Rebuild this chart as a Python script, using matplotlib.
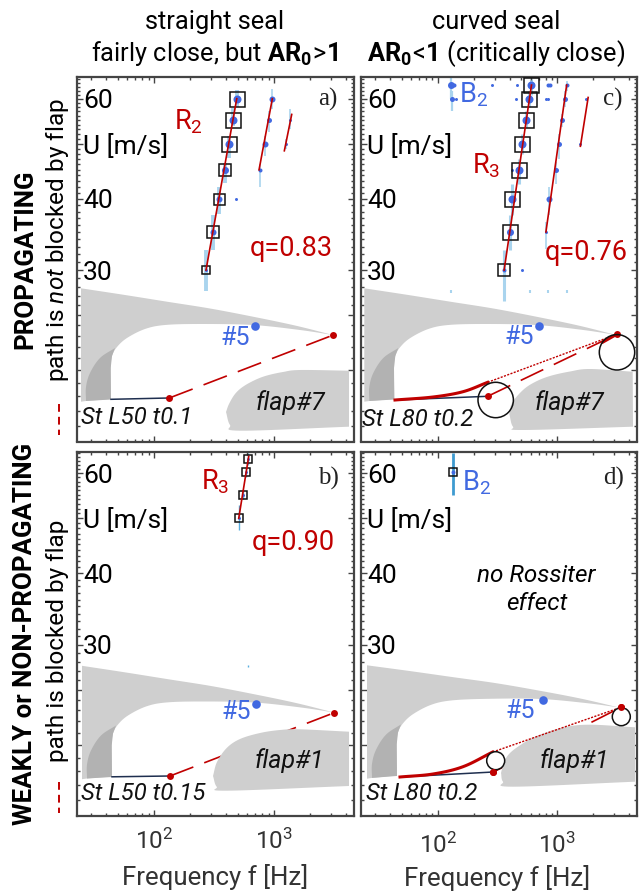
"""Rossiter modes vs flow speed for the four seal / flap configurations."""
import matplotlib
matplotlib.use("Agg")
import matplotlib.pyplot as plt
import numpy as np
from matplotlib.patches import Circle, Polygon
from matplotlib.ticker import FixedLocator, LogLocator, NullFormatter

plt.rcParams['font.family'] = ['Roboto', 'DejaVu Sans']
plt.rcParams['mathtext.fontset'] = 'custom'
plt.rcParams['mathtext.rm'] = 'Roboto'
plt.rcParams['mathtext.it'] = 'Roboto:italic'
plt.rcParams['mathtext.bf'] = 'Roboto:bold'

# ── Spectral peaks ────────────────────────────────────────────────────────────
# panel a
a1_f = [271, 308, 350, 391, 419, 455, 489]
a1_u = [30, 35, 40, 45, 50, 55, 60]
a1_lo = [27.6, 32.5, 37.6, 42.6, 47.3, 53.8, 58]
a1_hi = [32.5, 37.5, 42, 46.2, 51.6, 57.7, 62.2]
a1_box = [8, 12, 11, 12, 15, 15, 15]
a1_dot = [3, 6, 6, 7, 8, 8, 8]
a2_f = [769, 837, 903, 968]
a2_u = [45, 50, 55, 60]
a2_lo = [42, 47.5, 52.5, 57.5]
a2_hi = [46, 51.5, 57, 62.5]
a2_dot = [4, 6, 5, 6]
a3_f = [1252, 1359]
a3_u = [50, 55]
a3_lo = [49, 53]
a3_hi = [51, 57.5]
a3_dot = [3, 3]
a_extra_f = [485]
a_extra_u = [40]
a_fit_f = [[271, 489], [750, 968], [1219, 1404]]
a_fit_u = [[30, 60], [45, 60], [48.6, 56.3]]

# panel b
b1_f = [508, 555, 584, 611]
b1_u = [50, 55, 60.3, 63.6]
b1_lo = [47.6, 54, 59, 62]
b1_hi = [52.8, 56, 61.5, 65]
b1_box = [8, 8, 8, 8]
b1_dot = [3, 3, 3, 3]
b_stub_f = [607]
b_stub_lo = [27.4]
b_stub_hi = [27.6]
b_fit_f = [[508, 615]]
b_fit_u = [[50, 64.2]]

# panel c
c1_f = [359, 400, 419, 482, 511, 546, 578, 597]
c1_u = [30, 35, 40, 45, 50, 55, 60, 63.4]
c1_lo = [26.5, 32.5, 37.5, 42.5, 48, 53.5, 58, 61]
c1_hi = [32.5, 37.5, 42.5, 47, 52, 57, 62, 65]
c1_box = [12, 15, 15, 15, 15, 15, 15, 15]
c1_dot = [4, 7, 8, 8, 8, 8, 8, 8]
c2_f = [803, 845, 968, 1026, 1095, 1161, 1197]
c2_u = [35, 40, 45, 50, 55, 60, 63.4]
c2_lo = [32.7, 37.5, 42.5, 47, 53.5, 58, 62]
c2_hi = [36.5, 42, 46.5, 52, 56.5, 62, 64.5]
c2_dot = [3, 6, 5, 5, 5, 5, 4]
c3_f = [1538, 1742]
c3_u = [50, 60]
c_b2_f = [129, 132]
c_b2_u = [63.4, 60]
c_b2_lo = [60, 57]
c_b2_hi = [65.4, 62]
c_extra_f = [137, 142, 283, 458, 840, 873, 455, 803, 840, 419, 508]
c_extra_u = [63.4, 60, 63.4, 63.4, 63.4, 63.4, 60, 60, 60, 45, 30]
c_extra_dot = [4, 3, 3, 3, 4, 4, 3, 3, 3, 3, 3]
c_stub_f = [129, 593, 830, 1197]
c_stub_lo = [27.4, 27.4, 27.4, 27.4]
c_stub_hi = [27.7, 27.7, 27.7, 27.7]
c_fit_f = [[359, 608], [803, 1197], [1560, 1811]]
c_fit_u = [[30, 63.4], [35, 63.4], [49.5, 60.3]]

# panel d
d1_f = [133.6]
d1_u = [60.2]
d1_lo = [55]
d1_hi = [65]
d1_box = [8]
d1_dot = [4]

y_major = [20, 25, 30, 40, 50, 60]
y_labels = ["", "", "30", "40", "U [m/s]", "60"]
x_major = [100, 1000]

# ── Sketch outlines, in picture pixels ────────────────────────────────────────
seal_top_x = [81, 125, 167, 210, 253, 295, 333]
seal_top_y = [288.3, 295, 301.7, 308.5, 316.7, 325.5, 335]
seal_low_x = [333, 300, 253, 200, 165, 145, 127, 117, 112, 110.7, 111]
seal_low_y = [335, 330, 325, 324, 325, 329, 338, 347, 356, 368, 399]
seal_dark_x = [115, 100, 90, 86, 86]
seal_dark_y = [348, 358, 373, 387, 401]

flap7a_x = [226, 229, 235, 243, 255, 267, 283, 300, 349]
flap7a_y = [412, 404, 394, 386.7, 380, 375.5, 372, 370, 370.7]
flap7a_low_x = [349, 240, 230, 226]
flap7a_low_y = [426.7, 430.7, 425, 412]
flap7c_x = [509.3, 512, 523, 535, 550, 570, 590, 632.7]
flap7c_y = [414, 403, 390, 382, 376, 371.5, 369, 371.7]
flap7c_low_x = [633, 523, 513, 509.3]
flap7c_low_y = [426.7, 430, 426.7, 414]
flap1b_x = [213, 217, 226.7, 240, 260, 280, 300, 349]
flap1b_y = [776, 762, 748, 739, 733, 730, 729.3, 731.7]
flap1b_low_x = [349, 226.7, 216.7, 213]
flap1b_low_y = [786, 790.7, 786.7, 776]
flap1d_x = [501, 504, 510, 522, 536.7, 563, 590, 635]
flap1d_y = [773, 762, 753, 744, 736, 727.5, 724.7, 727.3]
flap1d_low_x = [635, 513, 503, 501]
flap1d_low_y = [781.7, 786.7, 781.7, 773]

lip_c_x = [395, 433, 463, 487.7]
lip_c_y = [400, 397, 391.7, 382.3]
lip_d_x = [400, 433, 463, 492.7]
lip_d_y = [777, 774, 766.7, 752]

RED = "#C00000"
BLUE = "#4169E1"
BAR = "#A9D4EE"
GREY = "#CFCFCF"
DARK = "#B2B2B2"
NAVY = "#1F2F4F"
SPINE = "#444444"

fig = plt.figure(figsize=(6.44, 8.92), dpi=100)


def px_axes(left, top, right, bottom):
    return fig.add_axes([left / 644, 1 - bottom / 892, (right - left) / 644, (bottom - top) / 892])


def smooth(xs, ys, n=12):
    """Catmull-Rom through the read points."""
    p = np.column_stack([xs, ys]).astype(float)
    p = np.vstack([2 * p[0] - p[1], p, 2 * p[-1] - p[-2]])
    out = []
    for i in range(1, len(p) - 2):
        for t in np.linspace(0, 1, n, endpoint=False):
            out.append(0.5 * (2 * p[i] + (p[i + 1] - p[i - 1]) * t
                              + (2 * p[i - 1] - 5 * p[i] + 4 * p[i + 1] - p[i + 2]) * t ** 2
                              + (3 * p[i] - p[i - 1] - 3 * p[i + 1] + p[i + 2]) * t ** 3))
    out.append(p[-2])
    return np.array(out)


def setup(ax, bottom_row):
    ax.set_xscale("log")
    ax.set_yscale("log")
    ax.set_xlim(22.8, 4640)
    ax.set_ylim(15, 65.5)
    ax.xaxis.set_major_locator(FixedLocator(x_major))
    ax.xaxis.set_minor_locator(LogLocator(base=10, subs=np.arange(2, 10), numticks=12))
    ax.xaxis.set_minor_formatter(NullFormatter())
    ax.yaxis.set_major_locator(FixedLocator(y_major))
    ax.yaxis.set_major_formatter(plt.FixedFormatter(y_labels))
    ax.yaxis.set_minor_locator(FixedLocator([v for v in range(16, 66) if v not in y_major]))
    ax.yaxis.set_minor_formatter(NullFormatter())
    ax.tick_params(which="major", direction="in", top=True, right=True, length=4.5, width=1, color=SPINE)
    ax.tick_params(which="minor", direction="in", top=True, right=True, length=2.2, width=1, color=SPINE)
    ax.tick_params(axis="y", which="major", pad=-4.5, labelsize=19)
    ax.tick_params(axis="x", which="major", pad=9, labelsize=17.5, labelcolor="#333333",
                   labelbottom=bottom_row)
    for lab in ax.get_yticklabels():
        lab.set_ha("left")
    for s in ax.spines.values():
        s.set_color(SPINE)
        s.set_linewidth(1.6)


def peaks(ax, f, u, dot, lo=None, hi=None, box=None, bar_w=3.0, bar_c=BAR):
    if lo is not None:
        ax.vlines(f, lo, hi, color=bar_c, lw=bar_w, zorder=1)
    for x, y, d in zip(f, u, dot):
        ax.plot(x, y, "o", color=BLUE, ms=d * 0.72, mew=0, zorder=3)
    if box is not None:
        for x, y, b in zip(f, u, box):
            ax.plot(x, y, "s", mfc="none", mec="#111111", mew=1.1, ms=b * 0.72, zorder=4)


def fits(ax, fs, us):
    for f, u in zip(fs, us):
        ax.plot(f, u, color=RED, lw=1.2, zorder=5)


ax_a = px_axes(77, 77, 354, 441.5)
ax_b = px_axes(77, 451.5, 354, 816)
ax_c = px_axes(361, 77, 637, 441.5)
ax_d = px_axes(361, 451.5, 637, 816)
setup(ax_a, False)
setup(ax_b, True)
setup(ax_c, False)
setup(ax_d, True)
ax_d.tick_params(axis="x", which="major", pad=12)

peaks(ax_a, a1_f, a1_u, a1_dot, a1_lo, a1_hi, a1_box, bar_w=2.8)
peaks(ax_a, a2_f, a2_u, a2_dot, a2_lo, a2_hi, bar_w=1.2)
peaks(ax_a, a3_f, a3_u, a3_dot, a3_lo, a3_hi, bar_w=1.2)
peaks(ax_a, a_extra_f, a_extra_u, [3])
fits(ax_a, a_fit_f, a_fit_u)

peaks(ax_b, b1_f, b1_u, b1_dot, b1_lo, b1_hi, b1_box, bar_w=1.0, bar_c="#5AAEE0")
ax_b.vlines(b_stub_f, b_stub_lo, b_stub_hi, color="#5AAEE0", lw=1.0)
fits(ax_b, b_fit_f, b_fit_u)

peaks(ax_c, c1_f, c1_u, c1_dot, c1_lo, c1_hi, c1_box, bar_w=2.2)
peaks(ax_c, c2_f, c2_u, c2_dot, c2_lo, c2_hi, bar_w=1.2)
peaks(ax_c, c3_f, c3_u, [3, 3])
peaks(ax_c, c_b2_f, c_b2_u, [7, 5], c_b2_lo, c_b2_hi, bar_w=1.6)
peaks(ax_c, c_extra_f, c_extra_u, c_extra_dot)
ax_c.vlines(c_stub_f, c_stub_lo, c_stub_hi, color=BAR, lw=1.5)
fits(ax_c, c_fit_f, c_fit_u)

peaks(ax_d, d1_f, d1_u, d1_dot, d1_lo, d1_hi, d1_box, bar_w=2.0, bar_c="#3E9BD0")

# ── Overlay in picture pixels: sketches and annotations ───────────────────────
sk = fig.add_axes([0, 0, 1, 1])
sk.set_xlim(0, 644)
sk.set_ylim(892, 0)
sk.axis("off")


def seal(dx, dy, shear=0.0):
    top = smooth(seal_top_x, seal_top_y)
    low = smooth(seal_low_x, seal_low_y)
    pts = np.vstack([top, low, [[86, 401], [81, 401.7]]])
    dark = np.vstack([smooth(seal_dark_x, seal_dark_y), [[111, 399.5], [110.7, 368], [112, 356]]])
    for p, c in ((pts, GREY), (dark, DARK)):
        q = p + [dx, dy]
        q[:, 1] -= (p[:, 0] - 81) * shear
        sk.add_patch(Polygon(q, closed=True, fc=c, ec="none", zorder=1))


def flap(ux, uy, lx, ly):
    pts = np.vstack([smooth(ux, uy), smooth(lx, ly)])
    sk.add_patch(Polygon(pts, closed=True, fc=GREY, ec="none", zorder=3))


def path_line(x0, y0, x1, y1):
    sk.plot([x0, x1], [y0, y1], color=RED, lw=1.2, dashes=(15, 7), zorder=2)
    sk.plot([x0, x1], [y0, y1], "o", color=RED, ms=5, mew=0, zorder=4)


# panel a sketch
seal(0, 0)
sk.plot([111, 169], [399.3, 398], color=NAVY, lw=1.1, zorder=2)
path_line(169.3, 398, 333.3, 335)
flap(flap7a_x, flap7a_y, flap7a_low_x, flap7a_low_y)

# panel b sketch
seal(1, 377.5)
sk.plot([112, 170], [776.8, 776], color=NAVY, lw=1.1, zorder=2)
path_line(170, 776, 334.3, 712.7)
flap(flap1b_x, flap1b_y, flap1b_low_x, flap1b_low_y)

# panel c sketch
seal(283.3, 0)
lc = smooth(lip_c_x, lip_c_y)
sk.plot([395, 487.7], [400, 396.3], color=NAVY, lw=1.1, zorder=2)
path_line(487.7, 396.3, 616.7, 334.3)
sk.plot(lc[:, 0], lc[:, 1], color=RED, lw=2.2, zorder=4)
sk.plot([487.7, 616.7], [382.3, 334.3], color=RED, lw=1, ls=(0, (1.5, 1)), zorder=4)
sk.plot([603, 616.7], [342, 334.3], color=RED, lw=2.2, zorder=4)
flap(flap7c_x, flap7c_y, flap7c_low_x, flap7c_low_y)
sk.add_patch(Circle((495.7, 400), 17.7, fc="none", ec="#111111", lw=1.1, zorder=5))
sk.add_patch(Circle((617, 352.3), 17.7, fc="none", ec="#111111", lw=1.1, zorder=5))

# panel d sketch
seal(286, 377, shear=0.018)
ld = smooth(lip_d_x, lip_d_y)
sk.plot([400, 493.3], [777, 772], color=NAVY, lw=1.1, zorder=2)
path_line(493.3, 772, 621, 707.3)
flap(flap1d_x, flap1d_y, flap1d_low_x, flap1d_low_y)
sk.plot(ld[:, 0], ld[:, 1], color=RED, lw=2.2, zorder=4)
sk.plot([492.7, 621], [752, 707.3], color=RED, lw=1, ls=(0, (1.5, 1)), zorder=4)
sk.add_patch(Circle((495.7, 760.7), 9, fc="white", ec="#111111", lw=1.1, zorder=5))
sk.add_patch(Circle((621.3, 716.7), 9, fc="white", ec="#111111", lw=1.1, zorder=5))
sk.plot([493.3, 621], [772, 707.3], "o", color=RED, ms=5, mew=0, zorder=6)

# sensor #5
for x, y, tx, ty in ((255.3, 326, 235, 338), (256, 704, 236.7, 711.7),
                     (539, 326, 519, 337), (542.7, 700, 520.7, 710.7)):
    sk.plot(x, y, "o", color=BLUE, ms=6.2, mew=0, zorder=6)
    sk.text(tx, ty, "#5", color=BLUE, fontsize=18, ha="center", va="center", zorder=6)

for x, y, s in ((81.5, 418, "St L50 t0.1"), (81.5, 794, "St L50 t0.15"),
                (362.5, 419, "St L80 t0.2"), (366, 794, "St L80 t0.2")):
    sk.text(x, y, s, style="italic", fontsize=17.2, ha="left", va="center", color="#111111", zorder=6)
for x, y, s in ((290, 402.7, "flap#7"), (289.3, 760.7, "flap#1"),
                (569.3, 402.7, "flap#7"), (574, 760.7, "flap#1")):
    sk.text(x, y, s, style="italic", fontsize=18, ha="center", va="center", color="#111111", zorder=6)

for x, y, s in ((291.7, 248, "q=0.83"), (293, 542.7, "q=0.90"), (586.7, 252, "q=0.76"),
                (188, 122, "R$_2$"), (215, 481.7, "R$_3$"), (486.7, 166, "R$_3$")):
    sk.text(x, y, s, color=RED, fontsize=19.5, ha="center", va="center", zorder=6)
for x, y, s in ((474, 95, "B$_2$"), (476.7, 483, "B$_2$")):
    sk.text(x, y, s, color=BLUE, fontsize=19.5, ha="center", va="center", zorder=6)
for x, y, s in ((327.7, 99, "a)"), (328, 478, "b)"), (613, 99, "c)"), (614, 478, "d)")):
    sk.text(x, y, s, family="Liberation Serif", fontsize=18, ha="center", va="center", color="#222222")

sk.text(536.7, 576, "no Rossiter", style="italic", fontsize=17.5, ha="center", va="center")
sk.text(536.7, 603, "effect", style="italic", fontsize=17.5, ha="center", va="center")

# column titles
sk.text(215, 22, "straight seal", fontsize=18.3, ha="center", va="center")
sk.text(215, 53, r"fairly close, but $\mathbf{AR_0}\!{>}\!\mathbf{1}$", fontsize=18.3, ha="center", va="center")
sk.text(496, 22, "curved seal", fontsize=18.3, ha="center", va="center")
sk.text(496, 54, r"$\mathbf{AR_0}\!{<}\!\mathbf{1}$ (critically close)", fontsize=18.3, ha="center", va="center")

# row labels
sk.text(25, 259, "PROPAGATING", fontsize=18.6, fontweight="bold", rotation=90, ha="center", va="center")
sk.text(58, 240, r"path is $\mathit{not}$ blocked by flap", fontsize=17.6, rotation=90, ha="center", va="center")
sk.text(25, 634, "WEAKLY or NON-PROPAGATING", fontsize=18.6, fontweight="bold", rotation=90, ha="center", va="center")
sk.text(58, 641, "path is blocked by flap", fontsize=17.6, rotation=90, ha="center", va="center")
for y0, y1 in ((404, 435), (782, 813)):
    sk.plot([59, 59], [y0, y1], color=RED, lw=1.4, dashes=(4, 2.6))

sk.text(215, 876.5, "Frequency f [Hz]", fontsize=18.6, color="#333333", ha="center", va="center")
sk.text(497, 878, "Frequency f [Hz]", fontsize=18.6, color="#333333", ha="center", va="center")

fig.savefig("out.png", dpi=100)
